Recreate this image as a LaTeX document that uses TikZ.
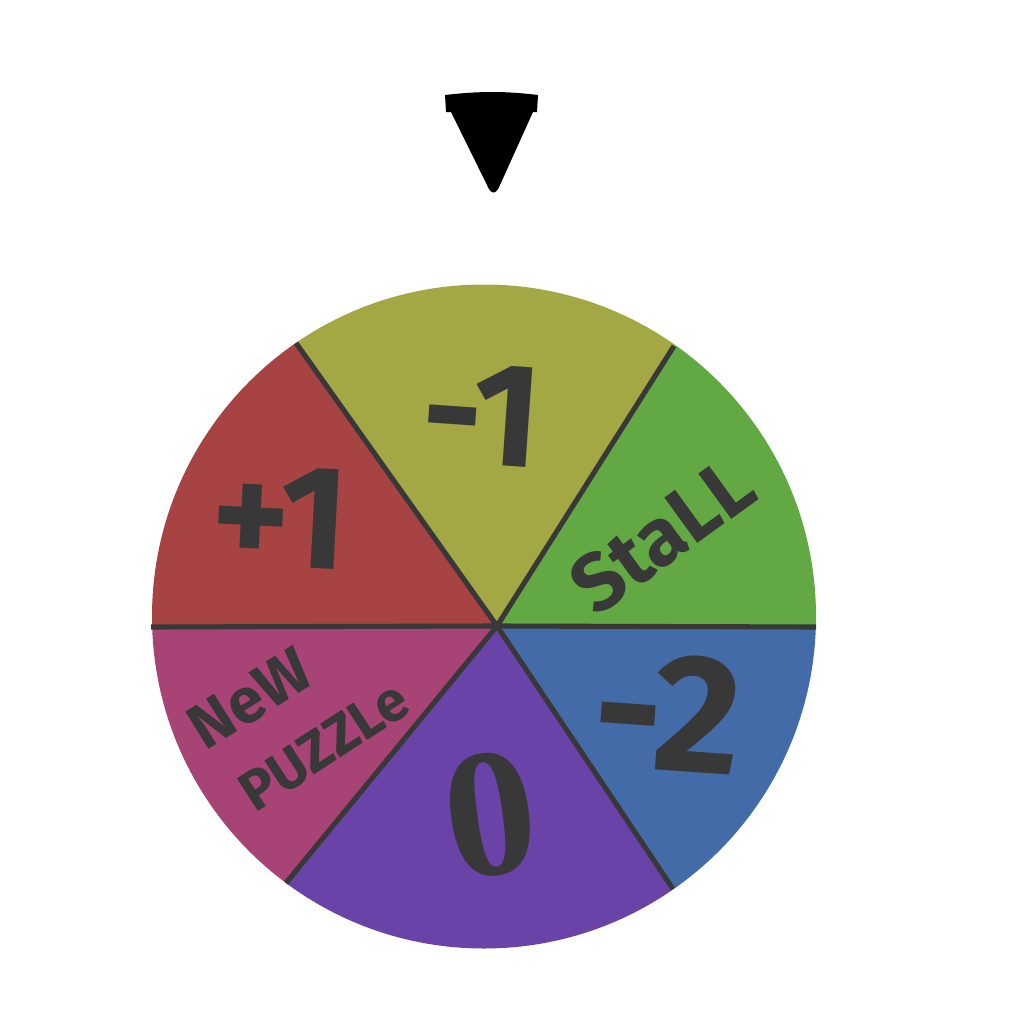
\documentclass[tikz,border=0pt]{standalone}
\usepackage{fontspec}
\setmainfont{Fira Sans}
\newfontfamily\zerofont{Liberation Serif}
\usepackage{xcolor}
\usetikzlibrary{calc}

\definecolor{wedgeolive}{HTML}{A3A845}
\definecolor{wedgegreen}{HTML}{62A843}
\definecolor{wedgeblue}{HTML}{436BA8}
\definecolor{wedgepurple}{HTML}{6943A8}
\definecolor{wedgemagenta}{HTML}{A84375}
\definecolor{wedgered}{HTML}{A84343}
\definecolor{inkgray}{HTML}{383838}

\begin{document}
\begin{tikzpicture}[x=0.01cm,y=-0.01cm,
  spoke/.style={draw=inkgray,line width=1.45pt},
  bignum/.style={text=inkgray,inner sep=0pt,font=\bfseries\fontsize{42}{44}\selectfont},
  wordlabel/.style={text=inkgray,inner sep=0pt,font=\bfseries\fontsize{#1}{#1}\selectfont}]
  \useasboundingbox (0,0) rectangle (1024,1024);

  % wheel
  \coordinate (rim) at (484,616.5);
  \coordinate (hub) at (497,626);
  \coordinate (sTL) at (296,343);
  \coordinate (sTR) at (674,346);
  \coordinate (sR)  at (816,627);
  \coordinate (sBR) at (673,889);
  \coordinate (sBL) at (286,883);
  \coordinate (sL)  at (151,627);

  \begin{scope}
    \clip (rim) circle (332);
    \fill[wedgeolive]   (hub) -- ($(hub)!2!(sTL)$) -- ($(hub)!2!(sTR)$) -- cycle;
    \fill[wedgegreen]   (hub) -- ($(hub)!2!(sTR)$) -- ($(hub)!2!(sR)$)  -- cycle;
    \fill[wedgeblue]    (hub) -- ($(hub)!2!(sR)$)  -- ($(hub)!2!(sBR)$) -- cycle;
    \fill[wedgepurple]  (hub) -- ($(hub)!2!(sBR)$) -- ($(hub)!2!(sBL)$) -- cycle;
    \fill[wedgemagenta] (hub) -- ($(hub)!2!(sBL)$) -- ($(hub)!2!(sL)$)  -- cycle;
    \fill[wedgered]     (hub) -- ($(hub)!2!(sL)$)  -- ($(hub)!2!(sTL)$) -- cycle;
  \end{scope}

  \foreach \s in {sTL,sTR,sR,sBR,sBL,sL}
    \draw[spoke] (hub) -- (\s);

  % labels
  \node[bignum,rotate=-4] (minusone) at (482,414) {-1};
  \node[bignum,rotate=-3] (plusone) at (280,517) {+1};
  \node[bignum,rotate=-4,font=\bfseries\fontsize{48}{50}\selectfont] (minustwo) at (668,712) {-2};
  \node[bignum,rotate=8,font=\zerofont\bfseries\fontsize{52}{54}\selectfont] (zero) at (490,815) {0};
  \node[wordlabel=23,rotate=36] (stall) at (662,535) {StaLL};
  \node[wordlabel=18,rotate=32] (new) at (250,699) {NeW};
  \node[wordlabel=16,rotate=33] (puzzle) at (324,746) {PUZZLe};

  % pointer
  \fill[black] (445,95) .. controls (480,91) and (505,91) .. (538,95)
    -- (537,112) -- (533,112) -- (500,185) .. controls (496,195) and (491,195) .. (487,185)
    -- (451,112) -- (446,112) -- cycle;
\end{tikzpicture}
\end{document}
